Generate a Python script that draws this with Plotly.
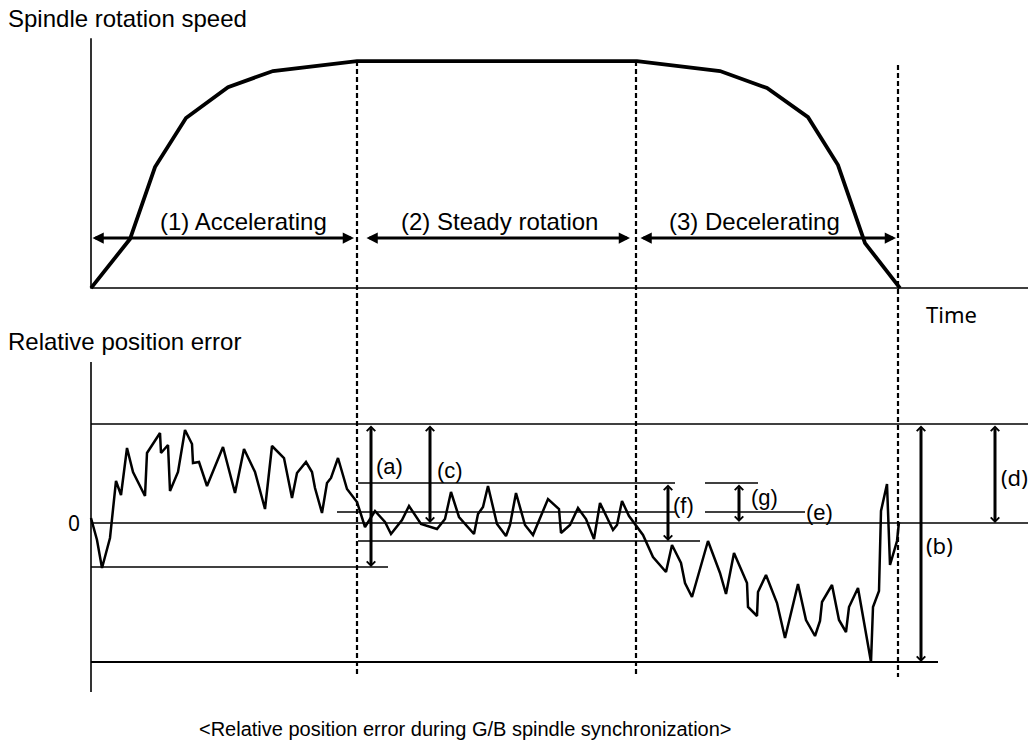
import plotly.graph_objects as go

# ---- spindle speed profile (time t, speed in % of steady speed) ----
SPEED_T = [0, 39, 64, 95, 137, 182, 266, 546, 629, 676, 717, 747, 774, 809]
SPEED_PCT = [0, 21.6, 53.3, 74.9, 88.5, 95.6, 100, 100, 95.6, 88.1, 75.3, 54.2, 19.8, 0]

# ---- relative position error over the same time base ----
ERR_T = [0, 6, 11, 19, 25, 30, 36, 42, 54, 56, 69, 70, 77, 79, 87, 94, 101, 102, 108,
         116, 132, 144, 153, 164, 174, 181, 193, 201, 206, 215, 221, 224, 231, 236, 240,
         247, 256, 266, 274, 284, 294, 300, 311, 318, 330, 346, 354, 360, 368, 383, 387,
         392, 397, 406, 415, 419, 425, 434, 442, 447, 457, 468, 470, 479, 487, 495, 503,
         509, 522, 526, 531, 538, 552, 562, 575, 581, 590, 594, 601, 617, 629, 635, 643,
         656, 657, 666, 667, 675, 686, 694, 707, 715, 724, 729, 731, 741, 748, 755, 758,
         767, 780, 782, 788, 790, 796, 799, 806, 808]
ERR_VAL = [5, -17, -45, -15, 42, 28, 75, 51, 27, 70, 90, 70, 78, 32, 51, 93, 79, 60, 61,
           37, 76, 30, 74, 51, 14, 77, 65, 25, 50, 61, 51, 35, 10, 40, 45,
           65, 34, 21, -4, 12, 1, -11, 3, 17, -1, -6, 4, 31, 6, -11, 9,
           16, 37, -1, -13, -2, 30, -2, -12, 0, 24, 14, -10, -2, 15, 4, -16,
           20, -7, -2, 22, 7, -12, -34, -49, -22, -40, -60, -74, -18, -50, -71, -30,
           -60, -84, -93, -69, -52, -80, -115, -61, -97, -113, -98, -79, -62, -97, -109, -84,
           -65, -139, -84, -68, 12, 39, -42, -18, 1]

# phase boundaries (end of acceleration, end of steady rotation, stop)
PHASE_T = [266, 545, 807]
PHASE_NAMES = ["(1) Accelerating", "(2) Steady rotation", "(3) Decelerating"]

# error levels
ERR_MAX = 99          # overall maximum
ERR_MIN = -139        # overall minimum
ACC_MIN = -44         # minimum during acceleration
STEADY_HI = 40        # steady-rotation upper envelope
STEADY_MEAN = 11      # steady-rotation mean
STEADY_LO = -18       # steady-rotation lower envelope

FONT = "Liberation Sans, Arial, sans-serif"
FONT2 = "Noto Sans, DejaVu Sans, sans-serif"
W, H = 1031, 745

fig = go.Figure()

# speed curve
fig.add_trace(go.Scatter(x=SPEED_T, y=SPEED_PCT, mode="lines", yaxis="y",
                         line=dict(color="black", width=3.8), hoverinfo="skip"))

# error curve
fig.add_trace(go.Scatter(x=ERR_T, y=ERR_VAL, mode="lines", yaxis="y2",
                         line=dict(color="black", width=2.5), hoverinfo="skip"))


def hline(y, t0, t1, width=1.4):
    fig.add_trace(go.Scatter(x=[t0, t1], y=[y, y], mode="lines", yaxis="y2",
                             line=dict(color="black", width=width), hoverinfo="skip"))


# axes of the two panels
fig.add_trace(go.Scatter(x=[0, 0, 937], y=[110, 0, 0], mode="lines", yaxis="y",
                         line=dict(color="black", width=1.6), hoverinfo="skip"))
fig.add_trace(go.Scatter(x=[0, 0], y=[161, -169], mode="lines", yaxis="y2",
                         line=dict(color="black", width=1.6), hoverinfo="skip"))

# reference levels in the error panel
hline(ERR_MAX, 0, 937)
hline(0, 0, 937)
hline(ERR_MIN, 0, 847, width=2)
hline(ACC_MIN, 0, 297)
hline(STEADY_HI, PHASE_T[0] + 1, 584)
hline(STEADY_MEAN, PHASE_T[0] - 20, 584)
hline(STEADY_LO, PHASE_T[0] + 1, 609)
hline(STEADY_HI, 614, 667)
hline(STEADY_MEAN, 614, 714)

shapes = []
# dashed phase boundaries across both panels
for t, ytop in zip(PHASE_T, [61, 61, 65]):
    shapes.append(dict(type="line", xref="x", yref="paper", x0=t, x1=t,
                       y0=1 - ytop / H, y1=1 - 677 / H,
                       line=dict(color="black", width=2.2, dash="5px,3px")))

annotations = []


def arrow(t0, v0, t1, v1, yref, head, size, width=3):
    annotations.append(dict(x=t1, y=v1, ax=t0, ay=v0, xref="x", yref=yref,
                            axref="x", ayref=yref, text="", showarrow=True,
                            arrowhead=head, startarrowhead=head, arrowside="end+start",
                            arrowsize=size, startarrowsize=size, arrowwidth=width,
                            arrowcolor="black", standoff=0, startstandoff=0))


# phase arrows in the speed panel
ARROW_LEVEL = 22
arrow(0, ARROW_LEVEL, PHASE_T[0] - 3, ARROW_LEVEL, "y", 2, 0.75)
arrow(PHASE_T[0] + 8, ARROW_LEVEL, PHASE_T[1] - 6, ARROW_LEVEL, "y", 2, 0.75)
arrow(PHASE_T[1] + 3, ARROW_LEVEL, PHASE_T[2] - 2, ARROW_LEVEL, "y", 2, 0.75)

for name, xc in zip(PHASE_NAMES, [152, 408, 663]):
    annotations.append(dict(x=xc, y=ARROW_LEVEL + 7.5, xref="x", yref="y", text=name,
                            showarrow=False, yanchor="middle",
                            font=dict(family=FONT, size=24, color="black")))

# dimension arrows in the error panel
arrow(280, ERR_MAX, 280, ACC_MIN, "y2", 4, 0.55)        # (a)
arrow(339, ERR_MAX, 339, 0, "y2", 4, 0.55)              # (c)
arrow(577, STEADY_HI, 577, STEADY_LO, "y2", 4, 0.55)    # (f)
arrow(648, STEADY_HI, 648, 1, "y2", 4, 0.55)            # (g)
arrow(830, ERR_MAX, 830, ERR_MIN, "y2", 4, 0.55)        # (b)
arrow(904, ERR_MAX, 904, 0, "y2", 4, 0.55)              # (d)

labels = [("(a)", 298, 57, FONT), ("(c)", 359, 53, FONT), ("(f)", 592, 18, FONT),
          ("(g)", 673, 26, FONT), ("(e)", 728, 11, FONT), ("(b)", 848, -22, FONT2),
          ("(d)", 923, 46, FONT2)]
for txt, t, v, fam in labels:
    annotations.append(dict(x=t, y=v, xref="x", yref="y2", text=txt, showarrow=False,
                            font=dict(family=fam, size=22, color="black")))

annotations.append(dict(x=-9, y=0, xref="x", yref="y2", text="0", showarrow=False,
                        xanchor="right", font=dict(family=FONT2, size=21, color="black")))


def paper_text(txt, x, y, anchor, size, fam=FONT):
    annotations.append(dict(x=x / W, y=1 - y / H, xref="paper", yref="paper", text=txt,
                            showarrow=False, xanchor=anchor, yanchor="middle",
                            font=dict(family=fam, size=size, color="black")))


paper_text("Spindle rotation speed", 6, 18, "left", 24)
paper_text("Relative position error", 6, 342, "left", 24)
paper_text("Time", 951, 314, "center", 22, FONT2)
paper_text("&lt;Relative position error during G/B spindle synchronization&gt;", 465, 729,
           "center", 20)

fig.update_layout(
    width=W, height=H,
    margin=dict(l=0, r=0, t=0, b=0),
    paper_bgcolor="white", plot_bgcolor="white",
    showlegend=False,
    xaxis=dict(range=[-91, 940], visible=False, fixedrange=True),
    yaxis=dict(range=[-201.3, 126.9], visible=False, fixedrange=True),
    yaxis2=dict(range=[-222, 523], visible=False, overlaying="y", fixedrange=True),
    shapes=shapes,
    annotations=annotations,
)

fig.write_html("out.html")
